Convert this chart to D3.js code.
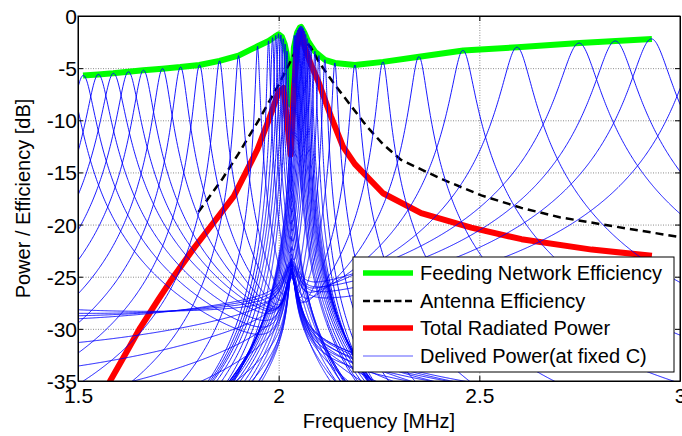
<!DOCTYPE html>
<html><head><meta charset="utf-8">
<script src="https://cdn.jsdelivr.net/npm/d3@7"></script>
<style>
html,body{margin:0;padding:0;background:#fff;}
text{font-family:"Liberation Sans",Arial,Helvetica,sans-serif;fill:#000;}
</style></head>
<body>
<svg id="chart" width="682" height="436"></svg>
<script>
// ---------------- data ----------------
const xTicks = [1.5, 2, 2.5, 3];
const xTickLabels = ["1.5", "2", "2.5", "3"];
const yTicks = [0, -5, -10, -15, -20, -25, -30, -35];
const yTickLabels = ["0", "-5", "-10", "-15", "-20", "-25", "-30", "-35"];

// Feeding network efficiency (green) [MHz], [dB]
const greenFreq = [1.5125,1.55,1.5875,1.625,1.6625,1.71,1.755,1.8025,1.8525,1.9,1.9475,1.975,1.99,2.0,2.008,2.015,2.02,2.03,2.038,2.046,2.053,2.056,2.064,2.073,2.09,2.115,2.14,2.19,2.26,2.35,2.46,2.595,2.75,2.84,2.93];
const greenDb   = [-5.7,-5.6,-5.5,-5.35,-5.2,-5.05,-4.9,-4.7,-4.3,-3.8,-2.9,-2.4,-2.0,-1.75,-2.0,-2.7,-3.6,-8.5,-3.0,-1.6,-1.1,-1.05,-1.6,-2.4,-3.4,-4.2,-4.5,-4.7,-4.4,-3.9,-3.3,-3.0,-2.6,-2.4,-2.2];

// Antenna efficiency (black dashed)
const blackFreq = [1.8,1.86,1.9,1.95,2.0,2.03,2.05,2.062,2.08,2.1,2.14,2.18,2.22,2.26,2.305,2.36,2.41,2.505,2.605,2.70,2.84,3.0];
const blackDb   = [-18.8,-15.6,-13.2,-10.0,-6.6,-4.3,-2.7,-2.3,-3.0,-4.4,-6.6,-8.6,-10.6,-12.3,-13.8,-14.8,-15.7,-17.2,-18.4,-19.3,-20.2,-21.2];

// Total radiated power (red)
const redFreq = [1.55,1.58,1.62,1.655,1.7,1.738,1.79,1.838,1.888,1.947,1.975,2.0,2.012,2.03,2.038,2.046,2.055,2.065,2.08,2.1,2.13,2.16,2.19,2.26,2.355,2.48,2.605,2.78,2.93];
const redDb   = [-38.5,-35,-32.3,-29.9,-27.2,-25,-22.2,-19.8,-17.3,-12.8,-10,-7.3,-6.9,-13.3,-7,-3,-1.5,-3.0,-4.6,-6.4,-9.6,-12.5,-14.2,-17,-18.9,-20.3,-21.4,-22.4,-23];

// Delivered power at fixed C (blue): tuning (peak) frequency and peak level of each curve
const bluePeakFreq = [1.475,1.5125,1.55,1.5875,1.625,1.6625,1.71,1.755,1.8025,1.8525,1.9,1.9475,1.975,1.985,1.993,2.0,2.006,2.012,2.017,2.022,
  2.037,2.04,2.043,2.046,2.049,2.052,2.055,2.058,2.061,2.064,2.067,2.071,2.075,2.08,2.09,2.1,2.115,2.14,2.19,2.26,2.35,2.46,2.595,2.75,2.84,2.93,3.06];
const bluePeakDb   = [-5.9,-5.7,-5.6,-5.5,-5.35,-5.2,-5.05,-4.9,-4.7,-4.3,-3.8,-2.9,-2.4,-2.1,-1.9,-1.75,-1.9,-2.3,-2.9,-3.8,
  -3.2,-2.5,-2.0,-1.6,-1.35,-1.15,-1.05,-1.1,-1.25,-1.5,-1.8,-2.2,-2.6,-2.9,-3.4,-3.8,-4.2,-4.5,-4.7,-4.4,-3.9,-3.3,-3.0,-2.6,-2.4,-2.2,-2.0];
// level where all curves cross at the antenna resonance
const neckFreq = 2.032, neckDb = -26;

const legendLabels = ["Feeding Network Efficiency","Antenna Efficiency","Total Radiated Power","Delived Power(at fixed C)"];

// ---------------- layout ----------------
const L = 78, R = 680, T = 16, B = 381;
const svg = d3.select("#chart");
const x = d3.scaleLinear().domain([1.5, 3]).range([L, R]);
const y = d3.scaleLinear().domain([-35, 0]).range([B, T]);

svg.append("defs").append("clipPath").attr("id","clip")
  .append("rect").attr("x",L).attr("y",T).attr("width",R-L).attr("height",B-T);

// grid
const grid = svg.append("g");
grid.append("g").attr("transform",`translate(0,${B})`)
  .call(d3.axisBottom(x).tickValues(xTicks).tickSize(-(B-T)).tickFormat(""))
  .call(g=>g.select(".domain").remove())
  .selectAll("line").attr("stroke","#8c8c8c").attr("stroke-dasharray","1,1.5");
grid.append("g").attr("transform",`translate(${L},0)`)
  .call(d3.axisLeft(y).tickValues(yTicks).tickSize(-(R-L)).tickFormat(""))
  .call(g=>g.select(".domain").remove())
  .selectAll("line").attr("stroke","#8c8c8c").attr("stroke-dasharray","1,1.5");

const plot = svg.append("g").attr("clip-path","url(#clip)");
const line = d3.line().x(d=>x(d[0])).y(d=>y(d[1]));

// green, black, red
plot.append("path").datum(d3.zip(greenFreq, greenDb)).attr("d", line)
  .attr("fill","none").attr("stroke","#00ff00").attr("stroke-width",6).attr("stroke-linejoin","round");
plot.append("path").datum(d3.zip(blackFreq, blackDb)).attr("d", line)
  .attr("fill","none").attr("stroke","#000").attr("stroke-width",2.5).attr("stroke-dasharray","8,5");
plot.append("path").datum(d3.zip(redFreq, redDb)).attr("d", line)
  .attr("fill","none").attr("stroke","#ff0000").attr("stroke-width",6).attr("stroke-linejoin","round");

// blue family: resonance shape around each read peak, with the antenna resonance near fp
const fp = neckFreq, aLin = 0.5, dx = 0.003, dr = 0.0035, hR = 1/0.0035, rhoB = 0.001;
const Pc = Math.pow(10, neckDb/10);
const Xf = f => { const d = fp - f; return d/(d*d+dx*dx) + aLin*f; };
const rhoF = f => { const d = f - fp; return rhoB + hR*dr*dr/(d*d+dr*dr); };
const gam = f0 => f0 < fp ? Math.min(0.024, 0.055*(fp-f0)) : Math.min(0.04, 0.055*(f0-fp));
let fs = [];
for (let f = 1.5; f <= 3.0001; f += 0.002) fs.push(+f.toFixed(5));
for (let f = 1.95; f <= 2.12; f += 0.0002) fs.push(+f.toFixed(5));
fs = fs.concat(bluePeakFreq);
fs = Array.from(new Set(fs)).sort((a,b)=>a-b);

const curves = bluePeakFreq.map((f0,i)=>{
  const G = Math.pow(10, bluePeakDb[i]/10);
  const e = 1e-6;
  const Xp = Math.abs((Xf(f0+e)-Xf(f0-e))/(2*e));
  const r0 = rhoF(f0), X0 = Xf(f0);
  let s = gam(f0)*Xp; if (s < r0) s = r0;
  const A = G*s*s/r0, Rk = s - r0;
  const wn = 0.006 + 0.012*Math.min(1, Math.abs(f0-fp)/0.5);
  return fs.map(f=>{
    const r = rhoF(f), D = Xf(f)-X0, d = (f-fp)/wn;
    const p = A*r/((Rk+r)*(Rk+r)+D*D) + Pc/(1+d*d);
    return [f, Math.max(-60, 10*Math.log10(p))];
  });
});
plot.append("g").selectAll("path").data(curves).join("path").attr("d", line)
  .attr("fill","none").attr("stroke","#0000ff").attr("stroke-width",0.9);

// axes box + ticks (inward)
const ax = svg.append("g");
ax.append("g").attr("transform",`translate(0,${B})`)
  .call(d3.axisBottom(x).tickValues(xTicks).tickSizeInner(-5).tickSizeOuter(0).tickPadding(8).tickFormat((d,i)=>xTickLabels[i]))
  .call(g=>{g.selectAll("text").attr("font-size",21).attr("dy","0").attr("y",22);});
ax.append("g").attr("transform",`translate(0,${T})`)
  .call(d3.axisTop(x).tickValues(xTicks).tickSizeInner(-5).tickSizeOuter(0).tickFormat(""));
ax.append("g").attr("transform",`translate(${L},0)`)
  .call(d3.axisLeft(y).tickValues(yTicks).tickSizeInner(-5).tickSizeOuter(0).tickPadding(1).tickFormat((d,i)=>yTickLabels[i]))
  .call(g=>{g.selectAll("text").attr("font-size",21).attr("dy","0.36em").attr("x",-1);});
ax.append("g").attr("transform",`translate(${R},0)`)
  .call(d3.axisRight(y).tickValues(yTicks).tickSizeInner(-5).tickSizeOuter(0).tickFormat(""));
ax.selectAll(".domain").attr("stroke","#000");
ax.selectAll(".tick line").attr("stroke","#000");
ax.selectAll("text").attr("font-family","'Liberation Sans',Arial,sans-serif").attr("fill","#000");
svg.append("rect").attr("x",L).attr("y",T).attr("width",R-L).attr("height",B-T)
  .attr("fill","none").attr("stroke","#000").attr("stroke-width",1);

// axis labels
svg.append("text").attr("x",(L+R)/2).attr("y",428).attr("text-anchor","middle")
  .attr("font-size",20).text("Frequency [MHz]");
svg.append("text").attr("transform",`translate(30,${(T+B)/2}) rotate(-90)`).attr("text-anchor","middle")
  .attr("font-size",20).text("Power / Efficiency [dB]");

// legend
const lg = svg.append("g");
lg.append("rect").attr("x",353).attr("y",257).attr("width",321).attr("height",115)
  .attr("fill","#fff").attr("stroke","#000").attr("stroke-width",1);
const legY = [273, 301, 328, 356];
const legStyles = [
  {c:"#00ff00", w:5.5, da:null},
  {c:"#000", w:2.5, da:"7,3.5"},
  {c:"#ff0000", w:5.5, da:null},
  {c:"#5a5aff", w:1.2, da:null}
];
legendLabels.forEach((t,i)=>{
  lg.append("line").attr("x1",363).attr("x2",413).attr("y1",legY[i]).attr("y2",legY[i])
    .attr("stroke",legStyles[i].c).attr("stroke-width",legStyles[i].w)
    .attr("stroke-dasharray",legStyles[i].da);
  lg.append("text").attr("x",420).attr("y",legY[i]+7).attr("font-size",20).text(t);
});
</script>
</body></html>
